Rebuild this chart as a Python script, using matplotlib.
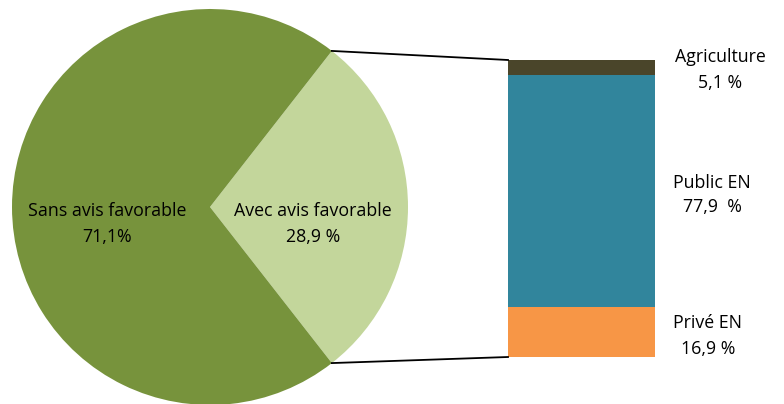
import numpy as np
import matplotlib.pyplot as plt

pie_labels = ['Avec avis favorable\n28,9 %', 'Sans avis favorable\n71,1%']
pie_values = [28.9, 71.1]
pie_colors = ['#C3D69B', '#77933C']

bar_names = ['Privé EN\n16,9 %', 'Public EN\n77,9  %', 'Agriculture\n5,1 %']
bar_values = [16.9, 77.9, 5.1]
bar_colors = ['#F79646', '#31859C', '#4A452A']

plt.rcParams['font.family'] = ['Open Sans', 'DejaVu Sans']

fig = plt.figure(figsize=(7.84, 4.04), dpi=100)
ax = fig.add_axes([0, 0, 1, 1])

cx, cy, r = 210, 197, 198
half = pie_values[0] * 3.6 / 2
ax.pie(pie_values, colors=pie_colors, startangle=-half, center=(cx, cy),
       radius=r, frame=True, wedgeprops=dict(linewidth=0))
ax.set_xlim(0, 784)
ax.set_ylim(0, 404)
ax.set_aspect('equal')
ax.axis('off')

fs = 12.8
ls = 1.5
ax.text(107, 180, pie_labels[1], ha='center', va='center', fontsize=fs, linespacing=ls)
ax.text(313, 180, pie_labels[0], ha='center', va='center', fontsize=fs, linespacing=ls)

# stacked bar
bx, bw, bbot, bh = 508, 147, 47, 297
scale = bh / sum(bar_values)
bottom = bbot
for v, c in zip(bar_values, bar_colors):
    ax.bar(bx, v * scale, width=bw, bottom=bottom, color=c, align='edge', linewidth=0)
    bottom += v * scale

label_pos = [(708, 68), (712, 209), (720, 334)]
for name, (lx, ly) in zip(bar_names, label_pos):
    ax.text(lx, ly, name, ha='center', va='center', fontsize=fs, linespacing=ls)

# connector lines
a = np.radians(half)
ax.plot([cx + r * np.cos(a), bx], [cy + r * np.sin(a), bbot + bh], color='black', lw=1.3)
ax.plot([cx + r * np.cos(a), bx], [cy - r * np.sin(a), bbot], color='black', lw=1.3)

fig.savefig('out.png', dpi=100)
